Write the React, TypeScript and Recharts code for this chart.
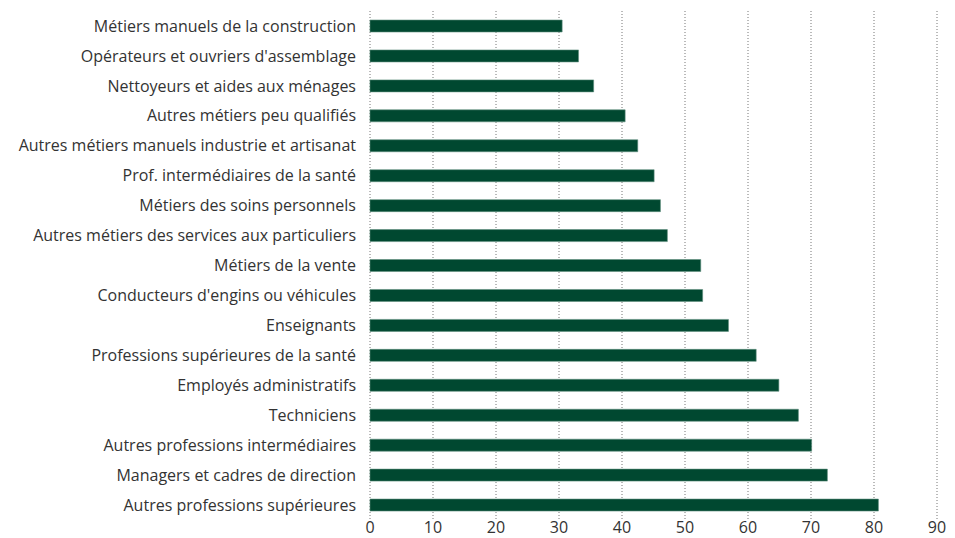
import { BarChart, Bar, XAxis, YAxis, CartesianGrid } from 'recharts';

const categories = [
  'Métiers manuels de la construction',
  "Opérateurs et ouvriers d'assemblage",
  'Nettoyeurs et aides aux ménages',
  'Autres métiers peu qualifiés',
  'Autres métiers manuels industrie et artisanat',
  'Prof. intermédiaires de la santé',
  'Métiers des soins personnels',
  'Autres métiers des services aux particuliers',
  'Métiers de la vente',
  "Conducteurs d'engins ou véhicules",
  'Enseignants',
  'Professions supérieures de la santé',
  'Employés administratifs',
  'Techniciens',
  'Autres professions intermédiaires',
  'Managers et cadres de direction',
  'Autres professions supérieures',
];

const values = [30.5, 33.1, 35.5, 40.5, 42.5, 45.1, 46.1, 47.2, 52.5, 52.8, 56.9, 61.3, 64.9, 68.0, 70.1, 72.6, 80.7];

const xTicks = [0, 10, 20, 30, 40, 50, 60, 70, 80, 90];

const data = categories.map((name, i) => ({ name, value: values[i] }));

const font = '"Open Sans", sans-serif';

export default function App() {
  return (
    <div style={{ position: 'absolute', left: 0, top: 0, width: 955, height: 538, background: '#fff' }}>
      <BarChart
        width={955}
        height={538}
        data={data}
        layout="vertical"
        margin={{ top: 11, right: 18, bottom: 0, left: 0 }}
        barSize={12}
      >
        <CartesianGrid horizontal={false} stroke="#777" strokeDasharray="1 2" />
        <XAxis
          type="number"
          domain={[0, 90]}
          ticks={xTicks}
          axisLine={false}
          tickLine={false}
          tickSize={0}
          tickMargin={2}
          height={18}
          tick={{ fill: '#333', fontSize: 16, fontFamily: font }}
          interval={0}
        />
        <YAxis
          type="category"
          dataKey="name"
          width={370}
          axisLine={false}
          tickLine={false}
          tickSize={12}
          tickMargin={2}
          interval={0}
          tick={{ fill: '#333', fontSize: 16, fontFamily: font }}
        />
        <Bar dataKey="value" fill="#004830" stroke="#5f8f7d" strokeWidth={0.6} isAnimationActive={false} />
      </BarChart>
    </div>
  );
}
